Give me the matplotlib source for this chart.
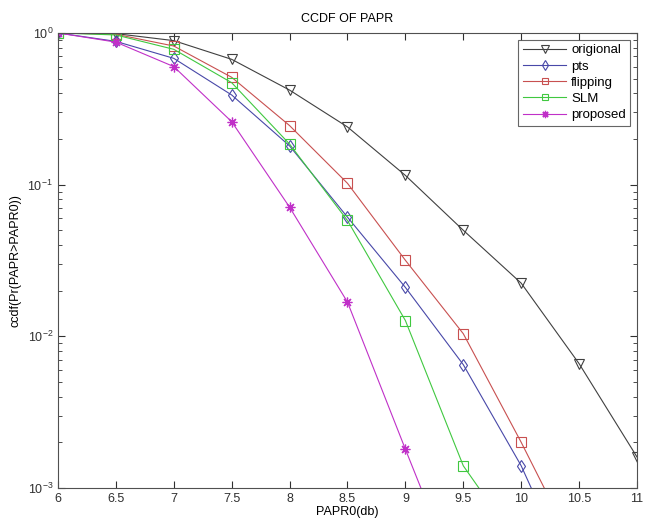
import numpy as np
import matplotlib
matplotlib.use('Agg')
import matplotlib.pyplot as plt

plt.rcParams['font.family'] = ['Liberation Sans', 'DejaVu Sans']

# PAPR0 thresholds (dB)
papr0 = [6, 6.5, 7, 7.5, 8, 8.5, 9, 9.5, 10, 10.5, 11]

# ccdf values (last points sit below the axis and are clipped)
origional = [1.0, 0.99, 0.89, 0.67, 0.42, 0.24, 0.115, 0.050, 0.0224, 0.0066, 0.0016]
pts = [1.0, 0.88, 0.68, 0.39, 0.18, 0.061, 0.021, 0.0065, 0.0014, 0.0002]
flipping = [1.0, 0.98, 0.82, 0.51, 0.245, 0.102, 0.0317, 0.0104, 0.0020, 0.00035]
slm = [1.0, 0.97, 0.78, 0.47, 0.185, 0.058, 0.0127, 0.0014, 0.0004]
proposed = [1.0, 0.87, 0.60, 0.26, 0.071, 0.0168, 0.0018, 0.0002]

fig = plt.figure(figsize=(6.61, 5.23), dpi=100)
ax = fig.add_axes([0.0877, 0.067, 0.876, 0.870])

ax.semilogy(papr0[:len(origional)], origional, '-v', color='#404040', mfc='none',
            lw=0.8, ms=7, mew=0.8, label='origional')
ax.semilogy(papr0[:len(pts)], pts, '-d', color='#4848a8', mfc='none',
            lw=0.8, ms=6.5, mew=0.8, label='pts')
ax.semilogy(papr0[:len(flipping)], flipping, '-s', color='#c85050', mfc='none',
            lw=0.8, ms=6.5, mew=0.8, label='flipping')
ax.semilogy(papr0[:len(slm)], slm, '-s', color='#40c840', mfc='none',
            lw=0.8, ms=6.5, mew=0.8, label='SLM')
ax.semilogy(papr0[:len(proposed)], proposed, '-', marker=(8, 2, 0), color='#c030c8',
            lw=0.8, ms=7, mew=0.9, label='proposed')

ax.set_xlim(6, 11)
ax.set_ylim(1e-3, 1)
ax.set_xticks(papr0)
ax.set_xticklabels(['6', '6.5', '7', '7.5', '8', '8.5', '9', '9.5', '10', '10.5', '11'])

ax.tick_params(which='both', direction='in', top=True, right=True,
               labelsize=9, colors='#303030')
ax.tick_params(which='major', length=5)
ax.tick_params(which='minor', length=3)
for s in ax.spines.values():
    s.set_color('#505050')
    s.set_linewidth(0.8)

ax.set_title('CCDF OF PAPR', fontsize=9, pad=8)
ax.set_xlabel('PAPR0(db)', fontsize=9, labelpad=1)
ax.set_ylabel('ccdf(Pr(PAPR>PAPR0))', fontsize=9, labelpad=4)

leg = ax.legend(loc='upper right', fontsize=9.5, frameon=True, fancybox=False,
                edgecolor='#404040', borderaxespad=0.5, handlelength=3.3,
                labelspacing=0.3, borderpad=0.35, handletextpad=0.35,
                markerscale=0.75)
leg.get_frame().set_linewidth(0.8)

fig.savefig('out.png', dpi=100)
